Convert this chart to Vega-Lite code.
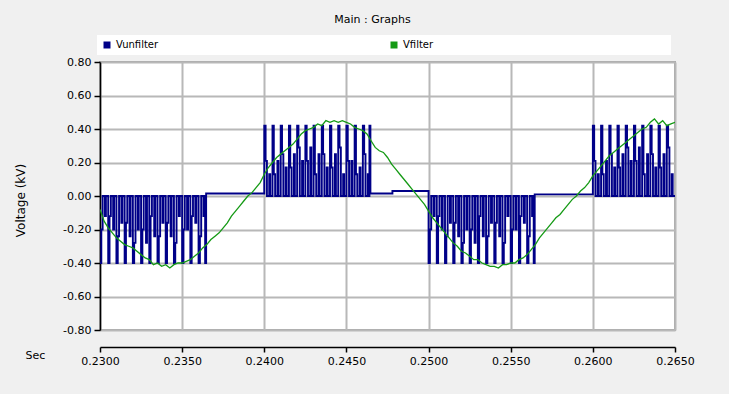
{
  "$schema": "https://vega.github.io/schema/vega-lite/v6.json",
  "width": 575,
  "height": 268,
  "autosize": "none",
  "padding": {"left": 100, "top": 62, "right": 54, "bottom": 64},
  "background": "#f0f0f0",
  "title": {"text": "Main : Graphs", "anchor": "middle", "dx": -15, "offset": 10, "fontSize": 11, "fontWeight": "normal", "font": "DejaVu Sans", "color": "black"},
  "datasets": {
    "u": [
      {"t":0.23000,"v":-0.4},{"t":0.23008,"v":-0.2},{"t":0.23016,"v":0},{"t":0.23030,"v":-0.12},{"t":0.23036,"v":0},
      {"t":0.23050,"v":-0.4},{"t":0.23058,"v":-0.12},{"t":0.23066,"v":0},{"t":0.23080,"v":-0.2},{"t":0.23086,"v":0},
      {"t":0.23100,"v":-0.4},{"t":0.23108,"v":-0.24},{"t":0.23116,"v":0},{"t":0.23130,"v":-0.16},{"t":0.23136,"v":0},
      {"t":0.23150,"v":-0.4},{"t":0.23158,"v":-0.16},{"t":0.23166,"v":0},{"t":0.23180,"v":-0.24},{"t":0.23186,"v":0},
      {"t":0.23200,"v":-0.4},{"t":0.23208,"v":-0.28},{"t":0.23216,"v":0},{"t":0.23230,"v":-0.2},{"t":0.23236,"v":0},
      {"t":0.23250,"v":-0.4},{"t":0.23258,"v":-0.2},{"t":0.23266,"v":0},{"t":0.23280,"v":-0.28},{"t":0.23286,"v":0},
      {"t":0.23300,"v":-0.4},{"t":0.23308,"v":-0.12},{"t":0.23316,"v":0},{"t":0.23330,"v":-0.24},{"t":0.23336,"v":0},
      {"t":0.23350,"v":-0.4},{"t":0.23358,"v":-0.24},{"t":0.23366,"v":0},{"t":0.23380,"v":-0.16},{"t":0.23386,"v":0},
      {"t":0.23400,"v":-0.4},{"t":0.23408,"v":-0.16},{"t":0.23416,"v":0},{"t":0.23430,"v":-0.24},{"t":0.23436,"v":0},
      {"t":0.23450,"v":-0.4},{"t":0.23458,"v":-0.28},{"t":0.23466,"v":0},{"t":0.23480,"v":-0.12},{"t":0.23486,"v":0},
      {"t":0.23500,"v":-0.4},{"t":0.23508,"v":-0.2},{"t":0.23516,"v":0},{"t":0.23530,"v":-0.2},{"t":0.23536,"v":0},
      {"t":0.23550,"v":-0.4},{"t":0.23558,"v":-0.12},{"t":0.23566,"v":0},{"t":0.23580,"v":-0.16},{"t":0.23586,"v":0},
      {"t":0.23600,"v":-0.4},{"t":0.23608,"v":-0.24},{"t":0.23616,"v":0},{"t":0.23630,"v":-0.12},{"t":0.23636,"v":0},{"t":0.23640,"v":-0.4},{"t":0.23646,"v":0.015},
      {"t":0.24000,"v":0.42},{"t":0.24008,"v":0.21},{"t":0.24016,"v":0},{"t":0.24030,"v":0.13},{"t":0.24036,"v":0},
      {"t":0.24050,"v":0.42},{"t":0.24058,"v":0.13},{"t":0.24066,"v":0},{"t":0.24080,"v":0.21},{"t":0.24086,"v":0},
      {"t":0.24100,"v":0.42},{"t":0.24108,"v":0.25},{"t":0.24116,"v":0},{"t":0.24130,"v":0.17},{"t":0.24136,"v":0},
      {"t":0.24150,"v":0.42},{"t":0.24158,"v":0.17},{"t":0.24166,"v":0},{"t":0.24180,"v":0.25},{"t":0.24186,"v":0},
      {"t":0.24200,"v":0.42},{"t":0.24208,"v":0.29},{"t":0.24216,"v":0},{"t":0.24230,"v":0.21},{"t":0.24236,"v":0},
      {"t":0.24250,"v":0.42},{"t":0.24258,"v":0.21},{"t":0.24266,"v":0},{"t":0.24280,"v":0.29},{"t":0.24286,"v":0},
      {"t":0.24300,"v":0.42},{"t":0.24308,"v":0.13},{"t":0.24316,"v":0},{"t":0.24330,"v":0.25},{"t":0.24336,"v":0},
      {"t":0.24350,"v":0.42},{"t":0.24358,"v":0.25},{"t":0.24366,"v":0},{"t":0.24380,"v":0.17},{"t":0.24386,"v":0},
      {"t":0.24400,"v":0.42},{"t":0.24408,"v":0.17},{"t":0.24416,"v":0},{"t":0.24430,"v":0.25},{"t":0.24436,"v":0},
      {"t":0.24450,"v":0.42},{"t":0.24458,"v":0.29},{"t":0.24466,"v":0},{"t":0.24480,"v":0.13},{"t":0.24486,"v":0},
      {"t":0.24500,"v":0.42},{"t":0.24508,"v":0.21},{"t":0.24516,"v":0},{"t":0.24530,"v":0.21},{"t":0.24536,"v":0},
      {"t":0.24550,"v":0.42},{"t":0.24558,"v":0.13},{"t":0.24566,"v":0},{"t":0.24580,"v":0.17},{"t":0.24586,"v":0},
      {"t":0.24600,"v":0.42},{"t":0.24608,"v":0.25},{"t":0.24616,"v":0},{"t":0.24630,"v":0.13},{"t":0.24636,"v":0},{"t":0.24640,"v":0.42},{"t":0.24646,"v":0.015},{"t":0.24780,"v":0.03},
      {"t":0.25000,"v":-0.4},{"t":0.25008,"v":-0.2},{"t":0.25016,"v":0},{"t":0.25030,"v":-0.12},{"t":0.25036,"v":0},
      {"t":0.25050,"v":-0.4},{"t":0.25058,"v":-0.12},{"t":0.25066,"v":0},{"t":0.25080,"v":-0.2},{"t":0.25086,"v":0},
      {"t":0.25100,"v":-0.4},{"t":0.25108,"v":-0.24},{"t":0.25116,"v":0},{"t":0.25130,"v":-0.16},{"t":0.25136,"v":0},
      {"t":0.25150,"v":-0.4},{"t":0.25158,"v":-0.16},{"t":0.25166,"v":0},{"t":0.25180,"v":-0.24},{"t":0.25186,"v":0},
      {"t":0.25200,"v":-0.4},{"t":0.25208,"v":-0.28},{"t":0.25216,"v":0},{"t":0.25230,"v":-0.2},{"t":0.25236,"v":0},
      {"t":0.25250,"v":-0.4},{"t":0.25258,"v":-0.2},{"t":0.25266,"v":0},{"t":0.25280,"v":-0.28},{"t":0.25286,"v":0},
      {"t":0.25300,"v":-0.4},{"t":0.25308,"v":-0.12},{"t":0.25316,"v":0},{"t":0.25330,"v":-0.24},{"t":0.25336,"v":0},
      {"t":0.25350,"v":-0.4},{"t":0.25358,"v":-0.24},{"t":0.25366,"v":0},{"t":0.25380,"v":-0.16},{"t":0.25386,"v":0},
      {"t":0.25400,"v":-0.4},{"t":0.25408,"v":-0.16},{"t":0.25416,"v":0},{"t":0.25430,"v":-0.24},{"t":0.25436,"v":0},
      {"t":0.25450,"v":-0.4},{"t":0.25458,"v":-0.28},{"t":0.25466,"v":0},{"t":0.25480,"v":-0.12},{"t":0.25486,"v":0},
      {"t":0.25500,"v":-0.4},{"t":0.25508,"v":-0.2},{"t":0.25516,"v":0},{"t":0.25530,"v":-0.2},{"t":0.25536,"v":0},
      {"t":0.25550,"v":-0.4},{"t":0.25558,"v":-0.12},{"t":0.25566,"v":0},{"t":0.25580,"v":-0.16},{"t":0.25586,"v":0},
      {"t":0.25600,"v":-0.4},{"t":0.25608,"v":-0.24},{"t":0.25616,"v":0},{"t":0.25630,"v":-0.12},{"t":0.25636,"v":0},{"t":0.25640,"v":-0.4},{"t":0.25646,"v":0.01},
      {"t":0.26000,"v":0.42},{"t":0.26008,"v":0.21},{"t":0.26016,"v":0},{"t":0.26030,"v":0.13},{"t":0.26036,"v":0},
      {"t":0.26050,"v":0.42},{"t":0.26058,"v":0.13},{"t":0.26066,"v":0},{"t":0.26080,"v":0.21},{"t":0.26086,"v":0},
      {"t":0.26100,"v":0.42},{"t":0.26108,"v":0.25},{"t":0.26116,"v":0},{"t":0.26130,"v":0.17},{"t":0.26136,"v":0},
      {"t":0.26150,"v":0.42},{"t":0.26158,"v":0.17},{"t":0.26166,"v":0},{"t":0.26180,"v":0.25},{"t":0.26186,"v":0},
      {"t":0.26200,"v":0.42},{"t":0.26208,"v":0.29},{"t":0.26216,"v":0},{"t":0.26230,"v":0.21},{"t":0.26236,"v":0},
      {"t":0.26250,"v":0.42},{"t":0.26258,"v":0.21},{"t":0.26266,"v":0},{"t":0.26280,"v":0.29},{"t":0.26286,"v":0},
      {"t":0.26300,"v":0.42},{"t":0.26308,"v":0.13},{"t":0.26316,"v":0},{"t":0.26330,"v":0.25},{"t":0.26336,"v":0},
      {"t":0.26350,"v":0.42},{"t":0.26358,"v":0.25},{"t":0.26366,"v":0},{"t":0.26380,"v":0.17},{"t":0.26386,"v":0},
      {"t":0.26400,"v":0.42},{"t":0.26408,"v":0.17},{"t":0.26416,"v":0},{"t":0.26430,"v":0.25},{"t":0.26436,"v":0},
      {"t":0.26450,"v":0.42},{"t":0.26458,"v":0.29},{"t":0.26466,"v":0},{"t":0.26480,"v":0.13},{"t":0.26486,"v":0},{"t":0.26500,"v":0}
    ],
    "f": [
      {"t":0.23000,"v":-0.08},{"t":0.23025,"v":-0.15},{"t":0.23050,"v":-0.19},{"t":0.23075,"v":-0.22},{"t":0.23100,"v":-0.25},{"t":0.23125,"v":-0.27},{"t":0.23150,"v":-0.29},{"t":0.23175,"v":-0.30},
      {"t":0.23200,"v":-0.31},{"t":0.23225,"v":-0.33},{"t":0.23250,"v":-0.35},{"t":0.23275,"v":-0.37},{"t":0.23300,"v":-0.38},{"t":0.23325,"v":-0.41},{"t":0.23350,"v":-0.40},{"t":0.23375,"v":-0.42},
      {"t":0.23400,"v":-0.41},{"t":0.23425,"v":-0.43},{"t":0.23450,"v":-0.41},{"t":0.23475,"v":-0.40},{"t":0.23500,"v":-0.40},{"t":0.23525,"v":-0.39},{"t":0.23550,"v":-0.38},{"t":0.23575,"v":-0.36},
      {"t":0.23600,"v":-0.34},{"t":0.23625,"v":-0.31},{"t":0.23650,"v":-0.29},{"t":0.23675,"v":-0.26},{"t":0.23700,"v":-0.24},{"t":0.23725,"v":-0.22},{"t":0.23750,"v":-0.19},{"t":0.23775,"v":-0.16},
      {"t":0.23800,"v":-0.12},{"t":0.23825,"v":-0.09},{"t":0.23850,"v":-0.06},{"t":0.23875,"v":-0.03},{"t":0.23900,"v":0.00},{"t":0.23925,"v":0.02},{"t":0.23950,"v":0.05},{"t":0.23975,"v":0.08},
      {"t":0.24000,"v":0.13},{"t":0.24025,"v":0.17},{"t":0.24050,"v":0.20},{"t":0.24075,"v":0.23},{"t":0.24100,"v":0.25},{"t":0.24125,"v":0.27},{"t":0.24150,"v":0.29},{"t":0.24175,"v":0.31},
      {"t":0.24200,"v":0.34},{"t":0.24225,"v":0.37},{"t":0.24250,"v":0.39},{"t":0.24275,"v":0.40},{"t":0.24300,"v":0.41},{"t":0.24325,"v":0.43},{"t":0.24350,"v":0.42},{"t":0.24375,"v":0.45},
      {"t":0.24400,"v":0.44},{"t":0.24425,"v":0.45},{"t":0.24450,"v":0.44},{"t":0.24475,"v":0.45},{"t":0.24500,"v":0.44},{"t":0.24525,"v":0.43},{"t":0.24550,"v":0.41},{"t":0.24575,"v":0.40},
      {"t":0.24600,"v":0.39},{"t":0.24625,"v":0.37},{"t":0.24650,"v":0.33},{"t":0.24675,"v":0.29},{"t":0.24700,"v":0.27},{"t":0.24725,"v":0.26},{"t":0.24750,"v":0.23},{"t":0.24775,"v":0.19},
      {"t":0.24800,"v":0.16},{"t":0.24825,"v":0.13},{"t":0.24850,"v":0.10},{"t":0.24875,"v":0.07},{"t":0.24900,"v":0.04},{"t":0.24925,"v":0.01},{"t":0.24950,"v":-0.02},{"t":0.24975,"v":-0.05},
      {"t":0.25000,"v":-0.09},{"t":0.25025,"v":-0.13},{"t":0.25050,"v":-0.16},{"t":0.25075,"v":-0.19},{"t":0.25100,"v":-0.22},{"t":0.25125,"v":-0.25},{"t":0.25150,"v":-0.28},{"t":0.25175,"v":-0.30},
      {"t":0.25200,"v":-0.33},{"t":0.25225,"v":-0.34},{"t":0.25250,"v":-0.36},{"t":0.25275,"v":-0.38},{"t":0.25300,"v":-0.38},{"t":0.25325,"v":-0.40},{"t":0.25350,"v":-0.41},{"t":0.25375,"v":-0.42},
      {"t":0.25400,"v":-0.42},{"t":0.25425,"v":-0.43},{"t":0.25450,"v":-0.41},{"t":0.25475,"v":-0.41},{"t":0.25500,"v":-0.40},{"t":0.25525,"v":-0.40},{"t":0.25550,"v":-0.38},{"t":0.25575,"v":-0.37},
      {"t":0.25600,"v":-0.35},{"t":0.25625,"v":-0.32},{"t":0.25650,"v":-0.29},{"t":0.25675,"v":-0.25},{"t":0.25700,"v":-0.22},{"t":0.25725,"v":-0.19},{"t":0.25750,"v":-0.16},{"t":0.25775,"v":-0.13},
      {"t":0.25800,"v":-0.11},{"t":0.25825,"v":-0.08},{"t":0.25850,"v":-0.05},{"t":0.25875,"v":-0.02},{"t":0.25900,"v":0.00},{"t":0.25925,"v":0.03},{"t":0.25950,"v":0.05},{"t":0.25975,"v":0.08},
      {"t":0.26000,"v":0.12},{"t":0.26025,"v":0.15},{"t":0.26050,"v":0.18},{"t":0.26075,"v":0.21},{"t":0.26100,"v":0.24},{"t":0.26125,"v":0.26},{"t":0.26150,"v":0.28},{"t":0.26175,"v":0.30},
      {"t":0.26200,"v":0.32},{"t":0.26225,"v":0.34},{"t":0.26250,"v":0.36},{"t":0.26275,"v":0.38},{"t":0.26300,"v":0.40},{"t":0.26325,"v":0.41},{"t":0.26350,"v":0.44},{"t":0.26375,"v":0.46},
      {"t":0.26400,"v":0.43},{"t":0.26425,"v":0.45},{"t":0.26450,"v":0.42},{"t":0.26475,"v":0.43},{"t":0.26500,"v":0.44}
    ]
  },
  "encoding": {
    "x": {
      "field": "t", "type": "quantitative",
      "scale": {"domain": [0.23, 0.265], "nice": false, "zero": false},
      "axis": {
        "values": [0.23, 0.235, 0.24, 0.245, 0.25, 0.255, 0.26, 0.265],
        "format": ".4f", "offset": 17, "grid": true, "labelFlush": false,
        "gridColor": "#b8b8b8", "gridWidth": 2,
        "domainColor": "black", "domainWidth": 1.5, "tickColor": "black", "tickSize": 5, "tickWidth": 1.5,
        "labelFont": "DejaVu Sans", "labelFontSize": 11, "labelColor": "black", "labelPadding": 3,
        "title": "Sec", "titleAngle": 0, "titleX": -75, "titleY": 2, "titleAlign": "left", "titleBaseline": "top",
        "titleFont": "DejaVu Sans", "titleFontSize": 11, "titleFontWeight": "normal", "titleColor": "black"
      }
    },
    "y": {
      "field": "v", "type": "quantitative",
      "scale": {"domain": [-0.8, 0.8], "nice": false},
      "axis": {
        "values": [-0.8, -0.6, -0.4, -0.2, 0, 0.2, 0.4, 0.6, 0.8],
        "format": ".2f", "grid": true, "labelFlush": false,
        "gridColor": "#b8b8b8", "gridWidth": 2,
        "domainColor": "black", "domainWidth": 1.5, "tickColor": "black", "tickSize": 6, "tickWidth": 1.5,
        "labelFont": "DejaVu Sans", "labelFontSize": 11, "labelColor": "black", "labelPadding": 3,
        "title": "Voltage (kV)", "titleFont": "DejaVu Sans", "titleFontSize": 12, "titleFontWeight": "normal", "titleColor": "black",
        "titleX": -80, "titleY": 138, "titleAngle": -90, "titleAlign": "center", "titleBaseline": "middle"
      }
    }
  },
  "layer": [
    {
      "data": {"name": "u"},
      "mark": {"type": "line", "interpolate": "step-after", "strokeWidth": 1.9, "clip": true},
      "encoding": {
        "color": {
          "datum": "Vunfilter",
          "scale": {"domain": ["Vunfilter", "Vfilter"], "range": ["#000088", "#159a15"]},
          "legend": {
            "title": null, "orient": "none", "legendX": -3, "legendY": -27, "direction": "horizontal",
            "columnPadding": 230, "padding": 5, "fillColor": "white",
            "symbolType": "square", "symbolSize": 49, "symbolStrokeWidth": 0,
            "labelFont": "DejaVu Sans", "labelFontSize": 10, "labelColor": "black", "labelOffset": 4, "labelLimit": 400,
            "labelExpr": "datum.label == 'Vfilter' ? 'Vfilter' + '\u00a0\u00a0\u00a0\u00a0\u00a0\u00a0\u00a0\u00a0\u00a0\u00a0\u00a0\u00a0\u00a0\u00a0\u00a0\u00a0\u00a0\u00a0\u00a0\u00a0\u00a0\u00a0\u00a0\u00a0\u00a0\u00a0\u00a0\u00a0\u00a0\u00a0\u00a0\u00a0\u00a0\u00a0\u00a0\u00a0\u00a0\u00a0\u00a0\u00a0\u00a0\u00a0\u00a0\u00a0\u00a0\u00a0\u00a0\u00a0\u00a0\u00a0\u00a0\u00a0\u00a0\u00a0\u00a0\u00a0\u00a0\u00a0\u00a0\u00a0\u00a0\u00a0\u00a0\u00a0\u00a0\u00a0\u00a0\u00a0\u00a0\u00a0\u00a0\u00a0\u00a0\u200d' : datum.label",
            "encode": {"symbols": {"update": {"fill": {"scale": "color", "field": "value"}, "stroke": {"scale": "color", "field": "value"}}}}
          }
        }
      }
    },
    {
      "data": {"name": "f"},
      "mark": {"type": "line", "strokeWidth": 1.3, "clip": true},
      "encoding": {"color": {"datum": "Vfilter"}}
    }
  ],
  "config": {
    "locale": {"number": {"decimal": ".", "thousands": ",", "grouping": [3], "currency": ["$", ""], "minus": "-"}},
    "view": {"fill": "white", "stroke": "#a8a8a8", "strokeWidth": 2}
  }
}
